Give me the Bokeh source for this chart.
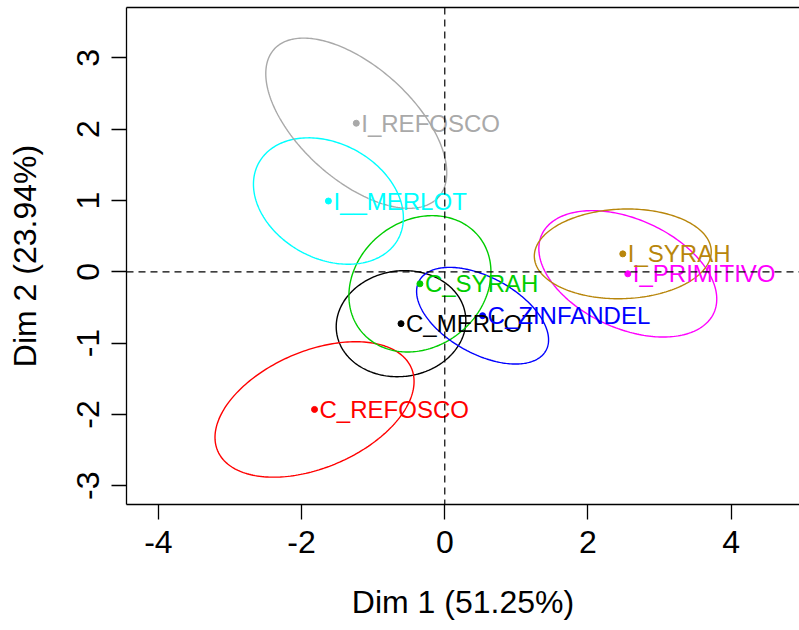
import numpy as np
from bokeh.plotting import figure
from bokeh.models import ColumnDataSource, FixedTicker, Span, LinearAxis
from bokeh.core.properties import value
from bokeh.embed import file_html
from bokeh.resources import INLINE

# category data (coordinates on Dim 1 / Dim 2)
labels = ["C_MERLOT", "C_REFOSCO", "C_SYRAH", "C_ZINFANDEL",
          "I__MERLOT", "I_PRIMITIVO", "I_REFOSCO", "I_SYRAH"]
dim1 = [-0.611, -1.819, -0.347, 0.528, -1.625, 2.556, -1.236, 2.486]
dim2 = [-0.727, -1.930, -0.168, -0.615, 0.993, -0.028, 2.084, 0.252]
colors = ["black", "red", "#00CD00", "blue", "cyan", "magenta", "#A9A9A9", "#B8860B"]

# confidence ellipses: semi-major, semi-minor (data units), angle (degrees)
ell_a = [0.908, 1.472, 1.057, 1.011, 1.110, 1.321, 1.547, 1.236]
ell_b = [0.740, 0.817, 0.883, 0.535, 0.806, 0.764, 0.793, 0.628]
ell_angle = [8.0, 23.3, 39.0, -29.0, -28.9, -24.6, -42.2, 2.0]

x_ticks = [-4, -2, 0, 2, 4]
y_ticks = [-3, -2, -1, 0, 1, 2, 3]
x_title = "Dim 1 (51.25%)"
y_title = "Dim 2 (23.94%)"

FONT = "Liberation Sans"

p = figure(width=799, height=622, output_backend="svg", toolbar_location=None,
           x_range=(-4.445, 4.954), y_range=(-3.263, 3.707),
           min_border_left=126, min_border_right=0, min_border_top=7,
           min_border_bottom=116)
p.grid.visible = False
p.outline_line_color = None
p.background_fill_color = "white"
p.border_fill_color = "white"

# reference lines
p.add_layout(Span(location=0, dimension="width", line_color="black",
                  line_dash="7 5", line_width=1.2))
p.add_layout(Span(location=0, dimension="height", line_color="black",
                  line_dash="7 5", line_width=1.2))

# ellipses
t = np.linspace(0, 2 * np.pi, 240)
xs, ys = [], []
for cx, cy, a, b, ang in zip(dim1, dim2, ell_a, ell_b, ell_angle):
    th = np.deg2rad(ang)
    ex = cx + a * np.cos(th) * np.cos(t) - b * np.sin(th) * np.sin(t)
    ey = cy + a * np.sin(th) * np.cos(t) + b * np.cos(th) * np.sin(t)
    xs.append(list(ex))
    ys.append(list(ey))
p.multi_line(xs=xs, ys=ys, line_color=colors, line_width=1.4)

src = ColumnDataSource(dict(x=dim1, y=dim2, text=labels, color=colors))
p.scatter("x", "y", source=src, size=6, color="color")
p.text("x", "y", text="text", source=src, text_color="color",
       text_font=value(FONT), text_font_size="24px",
       text_baseline="middle", text_align="left", x_offset=5)

for ax in (p.xaxis, p.yaxis):
    ax.axis_line_color = "black"
    ax.axis_line_width = 1.3
    ax.major_tick_line_color = "black"
    ax.major_tick_line_width = 1.3
    ax.major_tick_out = 15
    ax.major_tick_in = 0
    ax.minor_tick_line_color = None
    ax.major_label_text_font = FONT
    ax.major_label_text_font_size = "32px"
    ax.major_label_text_color = "black"
    ax.axis_label_text_font = FONT
    ax.axis_label_text_font_size = "32px"
    ax.axis_label_text_font_style = "normal"
    ax.axis_label_text_color = "black"

p.xaxis.ticker = FixedTicker(ticks=x_ticks)
p.yaxis.ticker = FixedTicker(ticks=y_ticks)
p.xaxis.major_label_overrides = {tk: str(tk) for tk in x_ticks}
p.yaxis.major_label_overrides = {tk: str(tk) for tk in y_ticks}
p.xaxis.axis_label = x_title
p.yaxis.axis_label = y_title
p.yaxis.major_label_orientation = "vertical"
p.xaxis.major_label_standoff = 11
p.yaxis.major_label_standoff = 12
p.xaxis.axis_label_standoff = 28
p.yaxis.axis_label_standoff = 32

# top border line of the box
top_axis = LinearAxis(ticker=FixedTicker(ticks=[]), axis_line_color="black",
                      axis_line_width=1.3, major_tick_out=0, major_tick_in=0,
                      minor_tick_out=0, minor_tick_in=0,
                      major_label_text_font_size="0px", major_label_standoff=0,
                      axis_label_standoff=0)
p.add_layout(top_axis, "above")

open("out.html", "w").write(file_html(p, INLINE))
